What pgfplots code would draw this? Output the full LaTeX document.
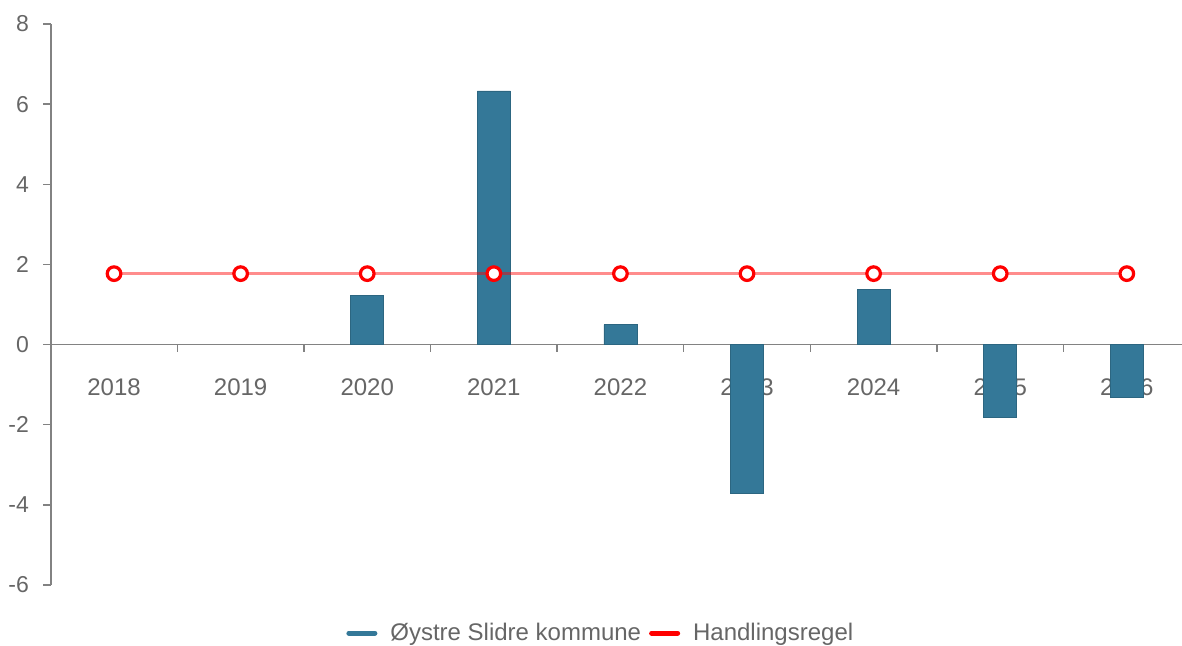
\documentclass[border=0pt]{standalone}
\usepackage{fontspec}
\setmainfont{Liberation Sans}
\usepackage{pgfplots}
\pgfplotsset{compat=1.18}
\definecolor{barblue}{RGB}{52,120,152}
\definecolor{txtgray}{RGB}{102,102,102}
\definecolor{axgray}{RGB}{130,130,130}
\begin{document}
\begin{tikzpicture}
\begin{axis}[
  set layers,
  at={(0pt,0pt)}, anchor=south west,
  scale only axis, width=565.5pt, height=280.5pt,
  xmin=-0.498, xmax=8.436, ymin=-6, ymax=8,
  axis x line*=middle, axis y line*=left,
  axis line style={draw=axgray, line width=0.8pt},
  xtick={0,1,2,3,4,5,6,7,8},
  xticklabels={2018,2019,2020,2021,2022,2023,2024,2025,2026},
  minor xtick={0.5,1.5,2.5,3.5,4.5,5.5,6.5,7.5},
  major x tick style={draw=none},
  minor x tick style={draw=axgray, line width=0.7pt},
  ytick={-6,-4,-2,0,2,4,6,8},
  y tick style={draw=axgray, line width=0.7pt},
  tick align=outside, major tick length=4pt, minor tick length=3.5pt,
  xticklabel style={font=\fontsize{12}{14}\selectfont, text=txtgray, yshift=-9.5pt},
  yticklabel style={font=\fontsize{11.5}{14}\selectfont, text=txtgray, xshift=-3.5pt},
  /pgf/number format/assume math mode=true,
  legend columns=2,
  legend style={at={(0.487,0)}, anchor=center, yshift=-24pt, draw=none, fill=none,
    font=\fontsize{12}{14}\selectfont, text=txtgray,
    /tikz/every odd column/.append style={column sep=4.5pt},
    /tikz/every even column/.append style={column sep=2pt}},
  legend image code/.code={\draw[#1, line width=2.5pt, line cap=round] (0pt,0pt) -- (13pt,0pt);},
]
\addplot[ybar, bar width=16.5pt, fill=barblue, draw=barblue!85!black, line width=0.4pt, forget plot]
  coordinates {(2,1.22) (3,6.33) (4,0.5) (5,-3.72) (6,1.37) (7,-1.82) (8,-1.32)};
\addplot[draw=red, draw opacity=0.45, line width=1.3pt, mark=*, mark size=3.4pt,
  mark options={draw=red, draw opacity=1, fill=white, fill opacity=1, line width=1.6pt}, forget plot]
  coordinates {(0,1.77) (1,1.77) (2,1.77) (3,1.77) (4,1.77) (5,1.77) (6,1.77) (7,1.77) (8,1.77)};
\addlegendimage{barblue}
\addlegendentry{Øystre Slidre kommune}
\addlegendimage{red}
\addlegendentry{Handlingsregel}
\end{axis}
\pgfresetboundingbox
\path[use as bounding box] (-25.5pt,-30pt) rectangle (565.5pt,292.5pt);
\end{tikzpicture}
\end{document}
